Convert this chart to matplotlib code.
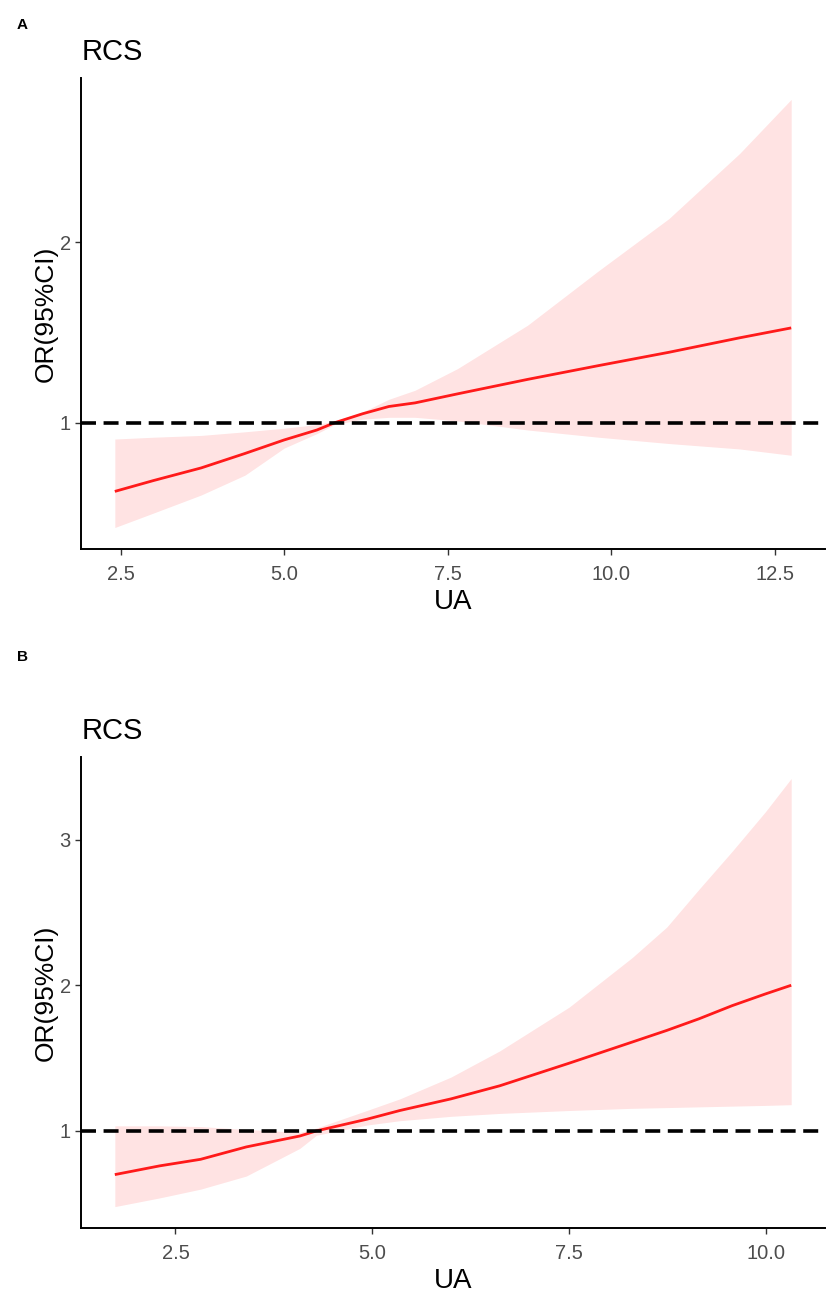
import matplotlib
matplotlib.use("Agg")
import matplotlib.pyplot as plt
from matplotlib import font_manager

# ---------------- data ----------------
ua_a = [2.41, 3.0, 3.73, 4.4, 5.0, 5.5, 5.77, 6.2, 6.6, 7.0, 7.65, 8.72, 9.80, 10.88, 11.96, 12.75]
or_a = [0.62, 0.68, 0.75, 0.83, 0.905, 0.96, 1.0, 1.05, 1.09, 1.11, 1.16, 1.24, 1.316, 1.39, 1.47, 1.525]
upper_a = [0.91, 0.92, 0.93, 0.95, 0.97, 0.99, 1.01, 1.06, 1.13, 1.18, 1.30, 1.54, 1.84, 2.13, 2.49, 2.79]
lower_a = [0.42, 0.50, 0.60, 0.71, 0.86, 0.94, 0.99, 1.02, 1.03, 1.03, 1.01, 0.96, 0.92, 0.885, 0.855, 0.82]

ua_b = [1.73, 2.3, 2.82, 3.4, 4.08, 4.29, 4.93, 5.35, 6.0, 6.62, 7.5, 8.3, 8.74, 9.15, 9.57, 9.99, 10.32]
or_b = [0.70, 0.76, 0.805, 0.89, 0.965, 1.0, 1.08, 1.14, 1.22, 1.31, 1.465, 1.61, 1.69, 1.77, 1.86, 1.94, 2.0]
upper_b = [1.035, 1.035, 1.03, 1.01, 0.99, 1.02, 1.14, 1.22, 1.37, 1.55, 1.85, 2.19, 2.40, 2.66, 2.92, 3.19, 3.42]
lower_b = [0.48, 0.54, 0.60, 0.69, 0.88, 0.97, 1.04, 1.07, 1.10, 1.12, 1.14, 1.155, 1.16, 1.165, 1.17, 1.175, 1.18]

xticks_a = [2.5, 5.0, 7.5, 10.0, 12.5]
yticks_a = [1, 2]
xticks_b = [2.5, 5.0, 7.5, 10.0]
yticks_b = [1, 2, 3]
ref_value = 1.0

panels = [
    dict(tag="A", x=ua_a, y=or_a, lo=lower_a, hi=upper_a, xt=xticks_a, yt=yticks_a,
         rect=[0.0977, 0.5761, 0.8975, 0.3637], title_y=1 - 60 / 1295, tag_y=1 - 29 / 1295),
    dict(tag="B", x=ua_b, y=or_b, lo=lower_b, hi=upper_b, xt=xticks_b, yt=yticks_b,
         rect=[0.0977, 0.0517, 0.8975, 0.3637], title_y=1 - 739 / 1295, tag_y=1 - 661 / 1295),
]

# ---------------- fonts ----------------
names = {f.name for f in font_manager.fontManager.ttflist}
base = "Liberation Sans" if "Liberation Sans" in names else "DejaVu Sans"
plt.rcParams["font.family"] = [base, "DejaVu Sans"]

fig = plt.figure(figsize=(8.29, 12.95), dpi=100)
fig.patch.set_facecolor("white")

for p in panels:
    ax = fig.add_axes(p["rect"])
    ax.fill_between(p["x"], p["lo"], p["hi"], color="red", alpha=0.11, linewidth=0, zorder=1)
    ax.plot(p["x"], p["y"], color="#FF1A1A", lw=2.0, zorder=2, solid_capstyle="butt")
    ax.axhline(ref_value, color="black", lw=2.6, ls=(0, (4.15, 2.1)), zorder=3)

    xmin, xmax = min(p["x"]), max(p["x"])
    ymin, ymax = min(p["lo"]), max(p["hi"])
    dx, dy = (xmax - xmin) * 0.05, (ymax - ymin) * 0.05
    ax.set_xlim(xmin - dx, xmax + dx)
    ax.set_ylim(ymin - dy, ymax + dy)

    ax.set_xticks(p["xt"])
    ax.set_xticklabels([f"{v:.1f}" for v in p["xt"]])
    ax.set_yticks(p["yt"])
    ax.set_yticklabels([str(v) for v in p["yt"]])
    ax.tick_params(axis="both", which="major", length=4.3, width=1.0, color="#333333",
                   labelcolor="#4D4D4D", labelsize=14.5)
    ax.tick_params(axis="x", pad=7)
    ax.tick_params(axis="y", pad=3)

    for s in ["top", "right"]:
        ax.spines[s].set_visible(False)
    for s in ["left", "bottom"]:
        ax.spines[s].set_color("black")
        ax.spines[s].set_linewidth(1.4)

    ax.set_xlabel("UA", fontsize=20, color="black", labelpad=4)
    ax.set_ylabel("OR(95%CI)", fontsize=19, color="black")
    ax.yaxis.set_label_coords(-0.031, 0.5)

    fig.text(p["rect"][0] + 0.001, p["title_y"], "RCS", fontsize=21, color="black",
             ha="left", va="baseline")
    fig.text(17 / 829, p["tag_y"], p["tag"], fontsize=11, fontweight="bold",
             color="black", ha="left", va="baseline")

fig.savefig("out.png", dpi=100, facecolor="white")
